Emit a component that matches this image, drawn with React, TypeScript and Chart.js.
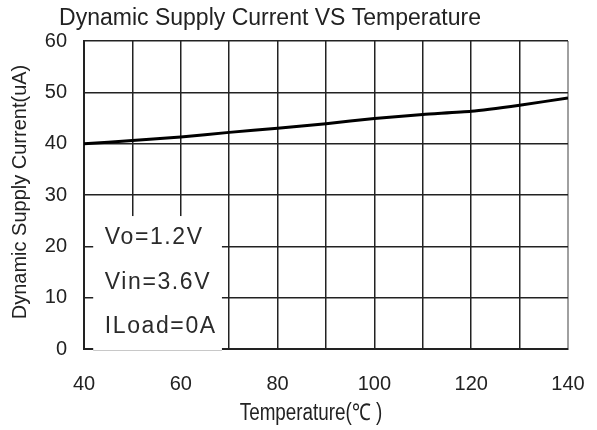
import React, { useEffect, useRef } from 'react';
import { Chart, registerables } from 'chart.js';

Chart.register(...registerables);

const temperatures = [40, 50, 60, 70, 80, 90, 100, 110, 120, 130, 140];
const supplyCurrent = [40.0, 40.6, 41.3, 42.2, 43.0, 43.9, 44.9, 45.7, 46.3, 47.5, 48.9];
const xTickLabels = [40, 60, 80, 100, 120, 140];
const yTickLabels = [0, 10, 20, 30, 40, 50, 60];
const chartTitle = 'Dynamic Supply Current VS Temperature';
const xTitle = 'Temperature(℃ )';
const yTitle = 'Dynamic Supply Current(uA)';
const conditions = ['Vo=1.2V', 'Vin=3.6V', 'ILoad=0A'];
const conditionRows = [21.6, 13.0, 4.3];

const SANS = "'Liberation Sans', Arial, sans-serif";

const drawScaled = (ctx: CanvasRenderingContext2D, text: string, x: number, y: number, sx: number) => {
  ctx.save();
  ctx.translate(x, y);
  ctx.scale(sx, 1);
  ctx.fillText(text, 0, 0);
  ctx.restore();
};

const annotPlugin = {
  id: 'annot',
  beforeDatasetsDraw(chart: any) {
    const { ctx, scales } = chart;
    const x = scales.x;
    const y = scales.y;
    const left = x.getPixelForValue(41.9);
    const right = x.getPixelForValue(68.5);
    const top = y.getPixelForValue(25.9);
    const bottom = y.getPixelForValue(0) + 1.5;
    ctx.save();
    ctx.fillStyle = '#ffffff';
    ctx.fillRect(left, top, right - left, bottom - top);
    ctx.strokeStyle = '#c8c8c8';
    ctx.lineWidth = 1;
    ctx.beginPath();
    ctx.moveTo(left, bottom);
    ctx.lineTo(right, bottom);
    ctx.stroke();
    ctx.fillStyle = '#2a2a2a';
    ctx.font = `23px ${SANS}`;
    (ctx as any).letterSpacing = '1.6px';
    ctx.textAlign = 'left';
    ctx.textBaseline = 'middle';
    conditions.forEach((t, i) => {
      ctx.fillText(t, x.getPixelForValue(44.3), y.getPixelForValue(conditionRows[i]));
    });
    ctx.restore();
  },
  afterDraw(chart: any) {
    const { ctx, chartArea } = chart;
    ctx.save();
    ctx.fillStyle = '#222222';
    ctx.textAlign = 'center';
    ctx.textBaseline = 'alphabetic';
    ctx.font = `23px ${SANS}`;
    ctx.fillText(chartTitle, 270, 25);
    ctx.font = `23px ${SANS}`;
    drawScaled(ctx, xTitle, 311, 420, 0.82);
    ctx.save();
    ctx.translate(20, (chartArea.top + chartArea.bottom) / 2 - 3);
    ctx.rotate(-Math.PI / 2);
    ctx.textBaseline = 'middle';
    ctx.font = `20px ${SANS}`;
    ctx.fillText(yTitle, 0, 0);
    ctx.restore();
    ctx.restore();
  },
};

export default function App() {
  const ref = useRef<HTMLCanvasElement | null>(null);
  useEffect(() => {
    if (!ref.current) return;
    const chart = new Chart(ref.current, {
      type: 'line',
      data: {
        datasets: [
          {
            data: temperatures.map((t, i) => ({ x: t, y: supplyCurrent[i] })),
            borderColor: '#000000',
            borderWidth: 3,
            pointRadius: 0,
            tension: 0.2,
            fill: false,
          },
        ],
      },
      options: {
        responsive: false,
        animation: false,
        devicePixelRatio: 1,
        layout: { padding: { left: 0, top: 41, right: 29, bottom: 0 } },
        plugins: { legend: { display: false }, tooltip: { enabled: false }, title: { display: false } },
        scales: {
          x: {
            type: 'linear',
            min: 40,
            max: 140,
            afterFit: (s: any) => {
              s.height = 81;
              s.paddingLeft = 0;
              s.paddingRight = 0;
            },
            afterBuildTicks: (s: any) => {
              s.ticks = temperatures.map((v) => ({ value: v }));
            },
            ticks: {
              autoSkip: false,
              maxRotation: 0,
              padding: 23,
              color: '#222222',
              font: { family: SANS, size: 20 },
              callback: (v: any) => (xTickLabels.includes(Number(v)) ? String(v) : ''),
            },
            grid: {
              drawTicks: false,
              color: (c: any) => (c.tick && c.tick.value === 140 ? '#a0a0a0' : '#222222'),
              lineWidth: (c: any) => (c.tick && c.tick.value === 140 ? 2 : 1.5),
            },
            border: { display: true, color: '#222222', width: 2 },
          },
          y: {
            type: 'linear',
            min: 0,
            max: 60,
            afterFit: (s: any) => {
              s.width = 84;
              s.paddingTop = 0;
              s.paddingBottom = 0;
            },
            afterBuildTicks: (s: any) => {
              s.ticks = yTickLabels.map((v) => ({ value: v }));
            },
            ticks: {
              padding: 17,
              color: '#222222',
              font: { family: SANS, size: 20 },
            },
            grid: {
              drawTicks: false,
              color: '#222222',
              lineWidth: 1.5,
            },
            border: { display: true, color: '#222222', width: 2 },
          },
        },
      },
      plugins: [annotPlugin],
    } as any);
    return () => chart.destroy();
  }, []);
  return (
    <div style={{ position: 'absolute', left: 0, top: 0, width: 597, height: 430, background: '#fff' }}>
      <canvas ref={ref} width={597} height={430} style={{ width: 597, height: 430, display: 'block' }} />
    </div>
  );
}
